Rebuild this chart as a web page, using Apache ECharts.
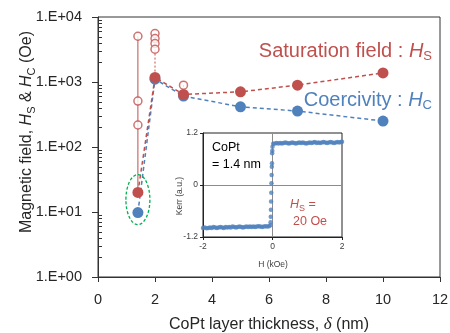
<!DOCTYPE html>
<html><head><meta charset="utf-8">
<script src="https://cdn.jsdelivr.net/npm/echarts@6/dist/echarts.min.js"></script>
<style>html,body{margin:0;padding:0;background:#fff}#c{width:450px;height:333px}</style>
</head><body><div id="c"></div>
<script>
// ---- main chart data ----
const thickness = [1.4, 2, 3, 5, 7, 10];
const hsValues = [20, 1175, 644, 706, 895, 1380];   // Saturation field Hs (Oe)
const hcValues = [9.8, 1106, 607, 415, 357, 251];   // Coercivity Hc (Oe)
const hsRawX = [1.4, 1.4, 1.4, 2, 2, 2, 2, 3];      // individual Hs readings (open circles)
const hsRawY = [5055, 508, 218, 5560, 4660, 3905, 3190, 895];
const xTickValues = [0, 2, 4, 6, 8, 10, 12];
const yTickLabels = ['1.E+00', '1.E+01', '1.E+02', '1.E+03', '1.E+04'];
const minorTickValues = [2,3,4,5,6,7,8,9,20,30,40,50,60,70,80,90,200,300,400,500,600,700,800,900,2000,3000,4000,5000,6000,7000,8000,9000];

// ---- inset: Kerr loop of CoPt 1.4 nm ----
const loopLower = [[-2.00,-0.99],[-1.95,-0.98],[-1.90,-1.00],[-1.85,-0.99],[-1.80,-0.98],[-1.75,-0.99],[-1.70,-0.97],[-1.65,-0.98],[-1.60,-0.99],[-1.55,-0.98],[-1.50,-0.97],[-1.45,-0.98],[-1.40,-0.99],[-1.35,-0.97],[-1.30,-0.98],[-1.25,-0.97],[-1.20,-0.98],[-1.15,-0.96],[-1.10,-0.97],[-1.05,-0.98],[-1.00,-0.97],[-0.95,-0.96],[-0.90,-0.97],[-0.85,-0.98],[-0.80,-0.97],[-0.75,-0.96],[-0.70,-0.97],[-0.65,-0.96],[-0.60,-0.97],[-0.55,-0.96],[-0.50,-0.97],[-0.45,-0.96],[-0.40,-0.95],[-0.35,-0.96],[-0.30,-0.97],[-0.25,-0.96],[-0.20,-0.95],[-0.15,-0.96],[-0.10,-0.95]];
const loopSwitch = [[-0.06,-0.93],[-0.055,-0.86],[-0.05,-0.73],[-0.045,-0.57],[-0.04,-0.38],[-0.035,-0.18],[-0.03,0.04],[-0.025,0.23],[-0.02,0.42],[-0.015,0.50],[-0.01,0.73],[-0.005,0.79],[0.0,0.88]];
const loopUpper = [[0.02,0.95],[0.07,0.96],[0.12,0.97],[0.17,0.96],[0.22,0.97],[0.27,0.96],[0.32,0.97],[0.37,0.98],[0.42,0.97],[0.47,0.96],[0.52,0.97],[0.57,0.98],[0.62,0.97],[0.67,0.96],[0.72,0.97],[0.77,0.98],[0.82,0.97],[0.87,0.98],[0.92,0.97],[0.97,0.96],[1.02,0.97],[1.07,0.98],[1.12,0.97],[1.17,0.98],[1.22,0.99],[1.27,0.97],[1.32,0.98],[1.37,0.97],[1.42,0.98],[1.47,0.99],[1.52,0.98],[1.57,0.97],[1.62,0.98],[1.67,0.99],[1.72,0.98],[1.77,0.97],[1.82,0.98],[1.87,0.99],[1.92,0.98],[1.97,0.99],[2.00,1.00]];
const insetYTicks = [-1.2, 0, 1.2];

const RED = '#C0504D', BLUE = '#4F81BD', TXT = '#262626';
const FONT = '"Liberation Sans", Arial, sans-serif';

const zip = (xs, ys) => xs.map((x, i) => [x, ys[i]]);

// vertical connectors from highest individual reading down to the plotted Hs value
const connectors = [];
thickness.forEach((t, i) => {
  const ys = hsRawY.filter((y, j) => hsRawX[j] === t);
  if (ys.length) connectors.push({ x: t, top: Math.max(...ys), bottom: hsValues[i] });
});

const chart = echarts.init(document.getElementById('c'), null, { renderer: 'canvas' });

const connectorSeries = connectors.map((c, k) => ({
  type: 'line', xAxisIndex: 0, yAxisIndex: 0, symbol: 'none', silent: true, z: 2,
  data: [[c.x, c.top], [c.x, c.bottom]],
  lineStyle: { color: RED, width: 1, type: k === 0 ? 'solid' : [2, 2] }
}));

const option = {
  animation: false,
  backgroundColor: '#fff',
  grid: [
    { left: 98, right: 10, top: 17, bottom: 56, outerBoundsMode: 'none', containLabel: false, show: true, borderColor: '#333', borderWidth: 1, backgroundColor: 'transparent' },
    { left: 203, width: 139, top: 133, height: 104, outerBoundsMode: 'none', containLabel: false, show: true, borderColor: '#222', borderWidth: 1, backgroundColor: '#fff', z: 5 }
  ],
  xAxis: [
    { gridIndex: 0, type: 'value', min: 0, max: 12, interval: 2,
      axisLine: { lineStyle: { color: '#333', width: 1 } },
      axisTick: { show: true, length: 5, lineStyle: { color: '#333' } },
      axisLabel: { fontSize: 14.5, fontFamily: FONT, color: TXT, margin: 15 },
      splitLine: { show: false },
      name: '{a|CoPt layer thickness, }{d|δ}{a| (nm)}', nameLocation: 'middle', nameGap: 39,
      nameTextStyle: { rich: {
        a: { fontSize: 16, fontFamily: FONT, color: TXT },
        d: { fontSize: 17, fontFamily: '"Liberation Serif", serif', fontStyle: 'italic', color: TXT }
      } } },
    { gridIndex: 1, type: 'value', min: -2, max: 2, interval: 2, z: 6,
      axisLine: { onZero: false, lineStyle: { color: '#222', width: 1 } },
      axisTick: { show: true, length: 3, lineStyle: { color: '#222' } },
      axisLabel: { fontSize: 8.5, fontFamily: FONT, color: '#404040', margin: 5 },
      splitLine: { show: false } }
  ],
  yAxis: [
    { gridIndex: 0, type: 'log', logBase: 10, min: 1, max: 10000,
      axisLine: { show: true, lineStyle: { color: '#333', width: 1 } },
      axisTick: { show: true, length: 6, lineStyle: { color: '#333' } },
      axisLabel: { fontSize: 14.5, fontFamily: FONT, color: TXT, margin: 16,
        formatter: v => yTickLabels[Math.round(Math.log10(v))] },
      splitLine: { show: false } },
    { gridIndex: 1, type: 'value', min: -1.2, max: 1.2, interval: 1.2, z: 6,
      axisLine: { onZero: false, lineStyle: { color: '#222', width: 1 } },
      axisTick: { show: true, length: 3, lineStyle: { color: '#222' } },
      axisLabel: { fontSize: 8.5, fontFamily: FONT, color: '#404040', margin: 5,
        formatter: v => { const t = insetYTicks.find(q => Math.abs(q - v) < 1e-6); return t === 0 ? '0' : String(t); } },
      splitLine: { show: false } }
  ],
  series: [
    ...connectorSeries,
    { name: 'Hc', type: 'line', xAxisIndex: 0, yAxisIndex: 0, z: 3,
      data: zip(thickness, hcValues), symbol: 'circle', symbolSize: 11,
      itemStyle: { color: BLUE }, lineStyle: { color: BLUE, width: 1.5, type: [4, 3] } },
    { name: 'Hs', type: 'line', xAxisIndex: 0, yAxisIndex: 0, z: 4,
      data: zip(thickness, hsValues), symbol: 'circle', symbolSize: 11,
      itemStyle: { color: RED }, lineStyle: { color: RED, width: 1.5, type: [4, 3] } },
    { name: 'Hs raw', type: 'scatter', xAxisIndex: 0, yAxisIndex: 0, z: 5,
      data: zip(hsRawX, hsRawY), symbol: 'circle', symbolSize: 8,
      itemStyle: { color: '#fff', borderColor: RED, borderWidth: 1.5 } },
    { name: 'loop', type: 'scatter', xAxisIndex: 1, yAxisIndex: 1, z: 7,
      data: [...loopLower, ...loopSwitch, ...loopUpper], symbol: 'circle', symbolSize: 4.5,
      itemStyle: { color: BLUE },
      markLine: { silent: true, symbol: 'none', label: { show: false },
        lineStyle: { color: '#8c8c8c', width: 1, type: 'solid' },
        data: [{ xAxis: 0 }, { yAxis: 0 }] } }
  ]
};
chart.setOption(option);

const ctr = chart.convertToPixel({ xAxisIndex: 0, yAxisIndex: 0 }, [1.4, 15.5]);
const axisX = chart.convertToPixel({ xAxisIndex: 0 }, 0);
const minorTicks = minorTickValues.map(v => {
  const py = Math.round(chart.convertToPixel({ yAxisIndex: 0 }, v)) + 0.5;
  return { type: 'line', z: 10, silent: true, shape: { x1: axisX, y1: py, x2: axisX + 4, y2: py },
    style: { stroke: '#333', lineWidth: 1 } };
});
const rich = {
  r: { fontSize: 20, fontFamily: FONT, lineHeight: 24 },
  i: { fontSize: 20, fontFamily: FONT, fontStyle: 'italic', lineHeight: 24 },
  s: { fontSize: 13, fontFamily: FONT, lineHeight: 12, verticalAlign: 'bottom' }
};
const richY = {
  r: { fontSize: 16, fontFamily: FONT, lineHeight: 20, fill: TXT },
  i: { fontSize: 16, fontFamily: FONT, fontStyle: 'italic', lineHeight: 20, fill: TXT },
  s: { fontSize: 11, fontFamily: FONT, lineHeight: 10, verticalAlign: 'bottom', fill: TXT }
};
chart.setOption({
  graphic: [
    ...minorTicks,
    { type: 'ellipse', z: 10, shape: { cx: ctr[0], cy: ctr[1], rx: 12, ry: 25 },
      style: { fill: 'none', stroke: '#00B050', lineWidth: 1.3, lineDash: [3, 2] } },
    { type: 'text', z: 10, x: 432, y: 51,
      style: { text: '{r|Saturation field : }{i|H}{s|S}', fill: RED, align: 'right', verticalAlign: 'middle', textAlign: 'right', textVerticalAlign: 'middle', rich } },
    { type: 'text', z: 10, x: 432, y: 100,
      style: { text: '{r|Coercivity : }{i|H}{s|C}', fill: BLUE, align: 'right', verticalAlign: 'middle', textAlign: 'right', textVerticalAlign: 'middle', rich } },
    { type: 'text', z: 10, x: 27, y: 132, rotation: Math.PI / 2,
      style: { text: '{r|Magnetic field, }{i|H}{s|S}{r| & }{i|H}{s|C}{r| (Oe)}', align: 'center', verticalAlign: 'middle', textAlign: 'center', textVerticalAlign: 'middle', rich: richY } },
    { type: 'text', z: 20, x: 212, y: 148,
      style: { text: 'CoPt', fill: '#000', font: '12.5px ' + FONT, verticalAlign: 'middle', textVerticalAlign: 'middle' } },
    { type: 'text', z: 20, x: 212, y: 165,
      style: { text: '= 1.4 nm', fill: '#000', font: '12.5px ' + FONT, verticalAlign: 'middle', textVerticalAlign: 'middle' } },
    { type: 'text', z: 20, x: 290, y: 205,
      style: { text: '{i|H}{s|S}{r| =}', fill: RED, verticalAlign: 'middle', textVerticalAlign: 'middle',
        rich: { r: { fontSize: 12.5, fontFamily: FONT, lineHeight: 16 }, i: { fontSize: 12.5, fontFamily: FONT, fontStyle: 'italic', lineHeight: 16 }, s: { fontSize: 9, fontFamily: FONT, lineHeight: 9, verticalAlign: 'bottom' } } } },
    { type: 'text', z: 20, x: 293, y: 222,
      style: { text: '20 Oe', fill: RED, font: '12.5px ' + FONT, verticalAlign: 'middle', textVerticalAlign: 'middle' } },
    { type: 'text', z: 20, x: 273, y: 265,
      style: { text: 'H (kOe)', fill: '#404040', font: '8.5px ' + FONT, align: 'center', verticalAlign: 'middle', textAlign: 'center', textVerticalAlign: 'middle' } },
    { type: 'text', z: 20, x: 180, y: 196, rotation: Math.PI / 2,
      style: { text: 'Kerr (a.u.)', fill: '#404040', font: '8.5px ' + FONT, align: 'center', verticalAlign: 'middle', textAlign: 'center', textVerticalAlign: 'middle' } }
  ]
});
</script>
</body></html>
